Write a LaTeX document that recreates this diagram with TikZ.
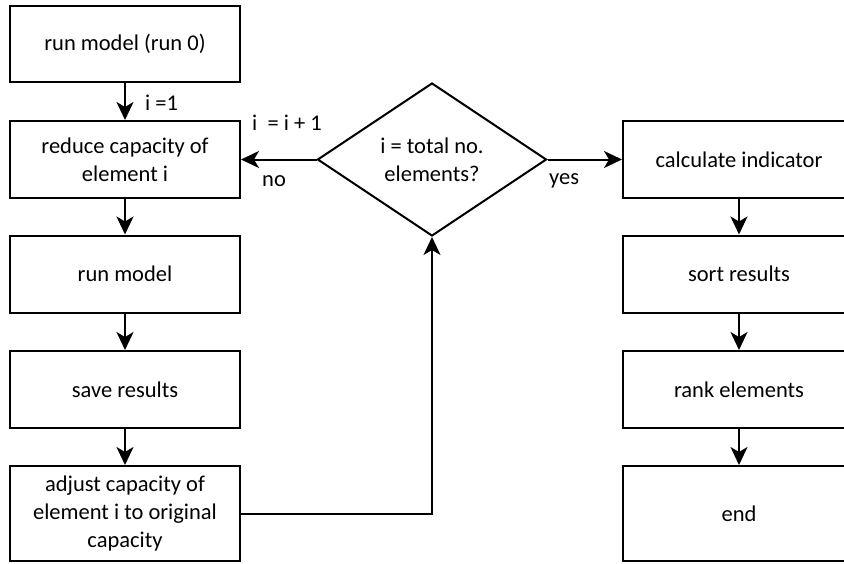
\documentclass[tikz,border=0pt]{standalone}
\usepackage{fontspec}
\setmainfont{Carlito}
\usetikzlibrary{shapes.geometric,arrows.meta}

\tikzset{
  every node/.style={font=\fontsize{22.5}{28}\selectfont},
  flow/.style={draw=black, line width=2pt, line cap=rect, line join=miter},
  stepbox/.style={flow, rectangle, inner sep=0pt, align=center,
    minimum width=230pt, minimum height=77pt},
  tallbox/.style={stepbox, minimum height=95pt},
  decision/.style={flow, diamond, inner sep=0pt, align=center,
    minimum width=229pt, minimum height=153pt},
  link/.style={black, line width=2pt, -{Stealth[length=18pt,width=17pt,inset=5pt]}},
  tag/.style={inner sep=0pt}
}

\begin{document}
\begin{tikzpicture}[x=1pt,y=-1pt]
  \useasboundingbox (0,0) rectangle (844,563);

  % left column
  \node[stepbox, minimum height=76pt] (run0)   at (125,44)    {run model (run 0)};
  \node[stepbox] (reduce) at (125,159.5) {reduce capacity of\\element i};
  \node[stepbox] (run)    at (125,274)   {run model};
  \node[stepbox] (save)   at (125,389.5) {save results};
  \node[tallbox] (adjust) at (125,513.5) {adjust capacity of\\element i to original\\capacity};

  % decision
  \node[decision] (dia) at (432,159.5) {i = total no.\\elements?};

  % right column
  \node[stepbox, minimum width=232pt] (calc) at (739,159.5) {calculate indicator};
  \node[stepbox, minimum width=232pt] (sort) at (739,274)   {sort results};
  \node[stepbox, minimum width=232pt] (rank) at (739,389.5) {rank elements};
  \node[tallbox, minimum width=232pt] (fin)  at (739,513.5) {end};

  % connectors
  \draw[link] (run0) -- (reduce);
  \draw[link] (reduce) -- (run);
  \draw[link] (run) -- (save);
  \draw[link] (save) -- (adjust);
  \draw[link] (adjust.east) -| (dia.south);
  \draw[link] (dia.west) -- (reduce.east);
  \draw[link] (dia.east) -- (calc.west);
  \draw[link] (calc) -- (sort);
  \draw[link] (sort) -- (rank);
  \draw[link] (rank) -- (fin);

  % labels
  \node[tag, anchor=west] (lone)  at (145,103) {i =1};
  \node[tag, anchor=west] (linc)  at (252,123) {i\ \ = i + 1};
  \node[tag, anchor=west] (lno)   at (262,181) {no};
  \node[tag, anchor=west] (lyes)  at (549,181) {yes};
\end{tikzpicture}
\end{document}
